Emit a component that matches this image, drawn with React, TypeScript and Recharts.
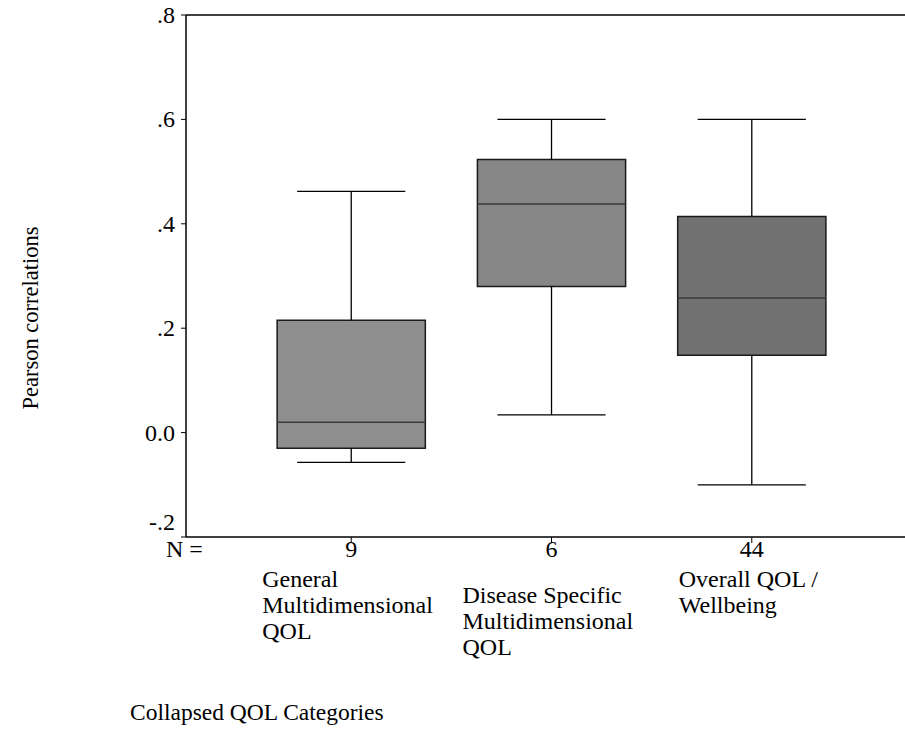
import React from "react";
import {
  ComposedChart,
  XAxis,
  YAxis,
  ReferenceArea,
  ReferenceLine,
} from "recharts";

const categories = [
  ["General", "Multidimensional", "QOL"],
  ["Disease Specific", "Multidimensional", "QOL"],
  ["Overall QOL /", "Wellbeing"],
];
const counts = ["9", "6", "44"];
const positions = [1, 2, 3];

const whiskerLow = [-0.057, 0.034, -0.1];
const q1 = [-0.03, 0.28, 0.148];
const median = [0.02, 0.438, 0.258];
const q3 = [0.215, 0.523, 0.414];
const whiskerHigh = [0.462, 0.6, 0.6];

const yTicks = [-0.2, 0, 0.2, 0.4, 0.6, 0.8];

const boxFills = ["#8e8e8e", "#868686", "#727272"];
const FONT = "Liberation Serif";
const txt = { fontFamily: FONT, fill: "#000" };
const BOX_HALF = 0.37;
const CAP_HALF = 0.27;
const labelOffsets = [-89, -89, -73];

function fmtY(v: number) {
  if (v === 0) return "0.0";
  return String(v).replace("0.", ".");
}

function CategoryTick(props: any) {
  const { x, y, payload, index } = props;
  const i = index ?? positions.indexOf(payload.value);
  const lines = categories[i] || [];
  const stagger = i === 1 ? 16 : 0;
  return (
    <g>
      {i === 0 && (
        <text x={166} y={y + 12} style={{ ...txt, fontSize: 24 }}>
          N =
        </text>
      )}
      <text x={x} y={y + 12} textAnchor="middle" style={{ ...txt, fontSize: 24 }}>
        {counts[i]}
      </text>
      {lines.map((ln, k) => (
        <text
          key={k}
          x={x + labelOffsets[i]}
          y={y + 42 + stagger + k * 26}
          style={{ ...txt, fontSize: 24 }}
        >
          {ln}
        </text>
      ))}
    </g>
  );
}

function YTick(props: any) {
  const { x, y, payload } = props;
  // the lowest label sits above its tick, as in the original
  const shift = payload.value === yTicks[0] ? -15 : 0;
  return (
    <text x={x} y={y + 8 + shift} textAnchor="end" style={{ ...txt, fontSize: 24 }}>
      {fmtY(payload.value)}
    </text>
  );
}

export default function App() {
  return (
    <div style={{ position: "absolute", left: 0, top: 0, background: "#fff" }}>
      <ComposedChart
        width={905}
        height={752}
        data={[]}
        margin={{ top: 15, right: 0, bottom: 0, left: 0 }}
      >
        <XAxis
          type="number"
          dataKey="x"
          domain={[0.175, 3.765]}
          ticks={positions}
          allowDataOverflow
          height={215}
          tickSize={6}
          tickLine={{ stroke: "#000" }}
          axisLine={{ stroke: "#000", strokeWidth: 1.5 }}
          tick={<CategoryTick />}
          label={{
            value: "Collapsed QOL Categories",
            content: () => (
              <text x={130} y={720} style={{ ...txt, fontSize: 23.5 }}>
                Collapsed QOL Categories
              </text>
            ),
          }}
        />
        <YAxis
          type="number"
          domain={[-0.2, 0.8]}
          ticks={yTicks}
          allowDataOverflow
          width={186}
          tickSize={5}
          tickMargin={6}
          tickLine={{ stroke: "#000" }}
          axisLine={{ stroke: "#000", strokeWidth: 1.5 }}
          tick={<YTick />}
          label={{
            value: "Pearson correlations",
            content: () => (
              <text
                x={38}
                y={318}
                transform="rotate(-90 38 318)"
                textAnchor="middle"
                style={{ ...txt, fontSize: 22.5 }}
              >
                Pearson correlations
              </text>
            ),
          }}
        />
        <ReferenceLine y={0.8} stroke="#000" strokeWidth={1.5} ifOverflow="visible" />
        {positions.map((p, i) => (
          <ReferenceArea
            key={`box-${i}`}
            x1={p - BOX_HALF}
            x2={p + BOX_HALF}
            y1={q1[i]}
            y2={q3[i]}
            fill={boxFills[i]}
            fillOpacity={1}
            stroke="#1a1a1a"
            strokeWidth={1.5}
            ifOverflow="visible"
          />
        ))}
        {positions.map((p, i) => (
          <ReferenceLine
            key={`med-${i}`}
            segment={[
              { x: p - BOX_HALF, y: median[i] },
              { x: p + BOX_HALF, y: median[i] },
            ]}
            stroke="#3a3a3a"
            strokeWidth={1.5}
            ifOverflow="visible"
          />
        ))}
        {positions.map((p, i) => (
          <ReferenceLine
            key={`wh-hi-${i}`}
            segment={[
              { x: p, y: q3[i] },
              { x: p, y: whiskerHigh[i] },
            ]}
            stroke="#000"
            strokeWidth={1.3}
            ifOverflow="visible"
          />
        ))}
        {positions.map((p, i) => (
          <ReferenceLine
            key={`wh-lo-${i}`}
            segment={[
              { x: p, y: q1[i] },
              { x: p, y: whiskerLow[i] },
            ]}
            stroke="#000"
            strokeWidth={1.3}
            ifOverflow="visible"
          />
        ))}
        {positions.map((p, i) => (
          <ReferenceLine
            key={`cap-hi-${i}`}
            segment={[
              { x: p - CAP_HALF, y: whiskerHigh[i] },
              { x: p + CAP_HALF, y: whiskerHigh[i] },
            ]}
            stroke="#000"
            strokeWidth={1.3}
            ifOverflow="visible"
          />
        ))}
        {positions.map((p, i) => (
          <ReferenceLine
            key={`cap-lo-${i}`}
            segment={[
              { x: p - CAP_HALF, y: whiskerLow[i] },
              { x: p + CAP_HALF, y: whiskerLow[i] },
            ]}
            stroke="#000"
            strokeWidth={1.3}
            ifOverflow="visible"
          />
        ))}
      </ComposedChart>
    </div>
  );
}
